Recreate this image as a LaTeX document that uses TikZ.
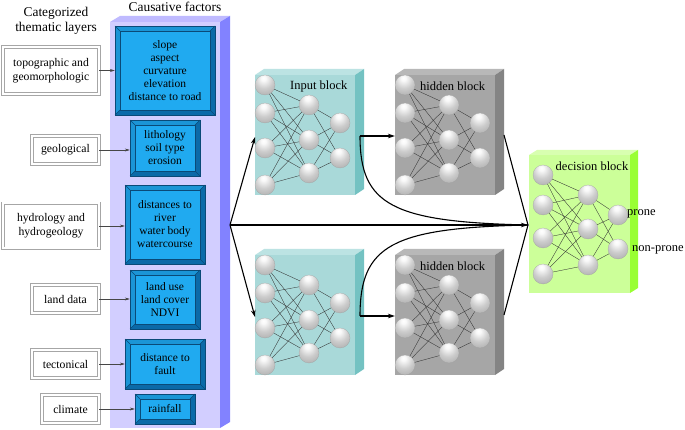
\documentclass[tikz,border=0pt]{standalone}
\usepackage{fontspec}
\setmainfont{Liberation Serif}
\usetikzlibrary{arrows.meta}
\definecolor{lavfront}{HTML}{D2CEFF}
\definecolor{lavside}{HTML}{8282FF}
\definecolor{lavtop}{HTML}{BFBAFF}
\definecolor{bvmid}{HTML}{1B95D6}
\definecolor{bvdark}{HTML}{0B6AA8}
\definecolor{bvin}{HTML}{20AAF0}
\definecolor{bvline}{HTML}{0A4A78}
\definecolor{infront}{HTML}{A9D9D9}
\definecolor{inside}{HTML}{74C2C2}
\definecolor{intop}{HTML}{BCE3E3}
\definecolor{hdfront}{HTML}{A6A6A6}
\definecolor{hdside}{HTML}{848484}
\definecolor{hdtop}{HTML}{B8B8B8}
\definecolor{dcfront}{HTML}{CCFF99}
\definecolor{dcside}{HTML}{99FF33}
\definecolor{dctop}{HTML}{D8FFB0}
\pgfdeclareradialshading{sphereshade}{\pgfpoint{-4bp}{18bp}}{%
  color(0bp)=(white); color(6bp)=(white!95!gray); color(22bp)=(gray!40);
  color(42bp)=(gray!68); color(62bp)=(gray!85); color(80bp)=(gray!90)}
\tikzset{
  lefttitle/.style={font=\fontsize{13.4}{15}\selectfont, align=center},
  layerbox/.style={draw=gray!70, double=white, double distance=2pt, line width=0.6pt, fill=white,
     font=\fontsize{11.7}{14}\selectfont, align=center, inner sep=0pt},
  bvtext/.style={font=\fontsize{11.5}{13}\selectfont, align=center, inner sep=0pt},
  thinarrow/.style={draw=gray!55!black, line width=0.5pt, -{Stealth[length=5pt,width=3pt]}},
  neuron/.style={circle, minimum size=20pt, inner sep=0pt, shading=sphereshade, draw=gray!75, line width=0.2pt},
  syn/.style={draw=black!80, line width=0.35pt},
  blocklabel/.style={font=\fontsize{12.5}{14}\selectfont, inner sep=0pt},
  bigarrow/.style={draw=black, line width=1.1pt, -{Stealth[length=7pt,width=4.5pt]}},
  bigline/.style={draw=black, line width=1.1pt},
}
% bevelled blue box: x1 y1 x2 y2 name text
\newcommand\bevelbox[6]{%
  \fill[bvmid] (#1,#2) rectangle (#3,#4);
  \fill[bvdark] (#1,#4) -- ({#1+5},{#4-5}) -- ({#3-5},{#4-5}) -- ({#3-5},{#2+5}) -- (#3,#2) -- (#3,#4) -- cycle;
  \draw[bvline, line width=0.5pt] (#1,#2) rectangle (#3,#4);
  \draw[bvline, line width=0.5pt, fill=bvin] ({#1+5},{#2+5}) rectangle ({#3-5},{#4-5});
  \draw[bvline, line width=0.4pt] (#1,#2) -- ({#1+5},{#2+5}) (#3,#2) -- ({#3-5},{#2+5})
     (#1,#4) -- ({#1+5},{#4-5}) (#3,#4) -- ({#3-5},{#4-5});
  \node[bvtext, minimum width={(#3-#1)*1pt}, minimum height={(#4-#2)*1pt}] (#5) at ({(#1+#3)/2},{(#2+#4)/2}) {#6};
}
% neural block: x y colorprefix labeltext labelx name
\newcommand\nnblock[6]{%
  \begin{scope}[shift={(#1,#2)}]
    \fill[#3front] (0,0) rectangle (100,120);
    \fill[#3top] (0,0) -- (9,-6) -- (109,-6) -- (100,0) -- cycle;
    \fill[#3side] (100,0) -- (109,-6) -- (109,114) -- (100,120) -- cycle;
    \node[blocklabel, anchor=west] (#6lab) at (#5,11) {#4};
    \node[neuron] (#6a1) at (10,10) {};
    \node[neuron] (#6a2) at (10,38) {};
    \node[neuron] (#6a3) at (10,73) {};
    \node[neuron] (#6a4) at (10,110) {};
    \node[neuron] (#6b1) at (54,30) {};
    \node[neuron] (#6b2) at (54,65) {};
    \node[neuron] (#6b3) at (54,98) {};
    \node[neuron] (#6c1) at (85,48) {};
    \node[neuron] (#6c2) at (85,83) {};
    \foreach \i in {1,...,4}{\foreach \j in {1,2,3}{\draw[syn] (#6a\i) -- (#6b\j);}}
    \foreach \i in {1,2,3}{\foreach \j in {1,2}{\draw[syn] (#6b\i) -- (#6c\j);}}
    \coordinate (#6in) at (0,62);
    \coordinate (#6out) at (105,61);
    \coordinate (#6end) at (109,60);
  \end{scope}
}
\begin{document}
\begin{tikzpicture}[x=1pt,y=-1pt]
\useasboundingbox (0,0) rectangle (685,430);
\fill[white] (0,0) rectangle (685,430);

% titles
\node[lefttitle] (t1) at (56,21) {Categorized\\thematic layers};
\node[lefttitle] (t2) at (175,7) {Causative factors};

% lavender panel
\fill[lavtop] (110,22) -- (120,16) -- (230,16) -- (220,22) -- cycle;
\fill[lavside] (220,22) -- (230,16) -- (230,422) -- (220,428) -- cycle;
\fill[lavfront] (110,22) rectangle (220,428);
\coordinate (apex) at (230,225);

% blue boxes
\bevelbox{115}{26}{215}{115}{f1}{slope\\aspect\\curvature\\elevation\\distance to road}
\bevelbox{130}{120}{200}{176}{f2}{lithology\\soil type\\erosion}
\bevelbox{125}{185}{205}{264}{f3}{distances to\\river\\water body\\watercourse}
\bevelbox{130}{270}{200}{329}{f4}{land use\\land cover\\NDVI}
\bevelbox{125}{339}{205}{389}{f5}{distance to\\fault}
\bevelbox{135}{394}{195}{424}{f6}{rainfall}

% layer boxes
\node[layerbox, minimum width=96pt, minimum height=47pt] (l1) at (51,70.5) {topographic and\\geomorphologic};
\node[layerbox, minimum width=67pt, minimum height=28pt] (l2) at (65.5,150) {geological};
\node[layerbox, minimum width=96pt, minimum height=45pt] (l3) at (51,226) {hydrology and\\hydrogeology};
\node[layerbox, minimum width=67pt, minimum height=28pt] (l4) at (65.5,299) {land data};
\node[layerbox, minimum width=67pt, minimum height=28pt] (l5) at (65.5,364) {tectonical};
\node[layerbox, minimum width=57pt, minimum height=28pt] (l6) at (70.5,409) {climate};

\draw[thinarrow] (l1.east) -- (l1.east -| f1.west);
\draw[thinarrow] (l2.east) -- (l2.east -| f2.west);
\draw[thinarrow] (l3.east) -- (l3.east -| f3.west);
\draw[thinarrow] (l4.east) -- (l4.east -| f4.west);
\draw[thinarrow] (l5.east) -- (l5.east -| f5.west);
\draw[thinarrow] (l6.east) -- (l6.east -| f6.west);

% neural blocks
\nnblock{255}{75}{in}{Input block}{35}{A}
\nnblock{395}{75}{hd}{hidden block}{25}{B}
\nnblock{255}{255}{in}{}{35}{C}
\nnblock{395}{255}{hd}{hidden block}{25}{D}

% decision block
\fill[dctop] (529,155) -- (537,150) -- (638,150) -- (630,155) -- cycle;
\fill[dcside] (630,155) -- (638,150) -- (638,288) -- (630,293) -- cycle;
\fill[dcfront] (529,155) rectangle (630,293);
\node[blocklabel] (dlab) at (592,166) {decision block};
\node[neuron] (Ea1) at (543,175) {};
\node[neuron] (Ea2) at (543,205) {};
\node[neuron] (Ea3) at (543,238) {};
\node[neuron] (Ea4) at (543,274) {};
\node[neuron] (Eb1) at (588,195) {};
\node[neuron] (Eb2) at (588,229) {};
\node[neuron] (Eb3) at (588,265) {};
\node[neuron] (Ec1) at (618,215) {};
\node[neuron] (Ec2) at (618,249) {};
\foreach \i in {1,...,4}{\foreach \j in {1,2,3}{\draw[syn] (Ea\i) -- (Eb\j);}}
\foreach \i in {1,2,3}{\foreach \j in {1,2}{\draw[syn] (Eb\i) -- (Ec\j);}}
\node[blocklabel, anchor=west] (prone) at (627,214) {prone};
\node[blocklabel, anchor=west] (nonprone) at (632,250) {non-prone};
\coordinate (dec) at (528,225);

% big connectors
\draw[bigarrow] (apex) -- (Ain);
\draw[bigarrow] (apex) -- (Cin);
\draw[bigarrow] (apex) -- (dec);
\draw[bigarrow] (Aout) -- (Aout -| 395,0);
\draw[bigarrow] (Cout) -- (Cout -| 395,0);
\draw[bigline] (Aout) .. controls (360,205) and (392,222) .. (dec);
\draw[bigline] (Cout) .. controls (360,245) and (392,228) .. (dec);
\draw[bigline] (Bend) -- (dec);
\draw[bigline] (Dend) -- (dec);
\end{tikzpicture}
\end{document}
